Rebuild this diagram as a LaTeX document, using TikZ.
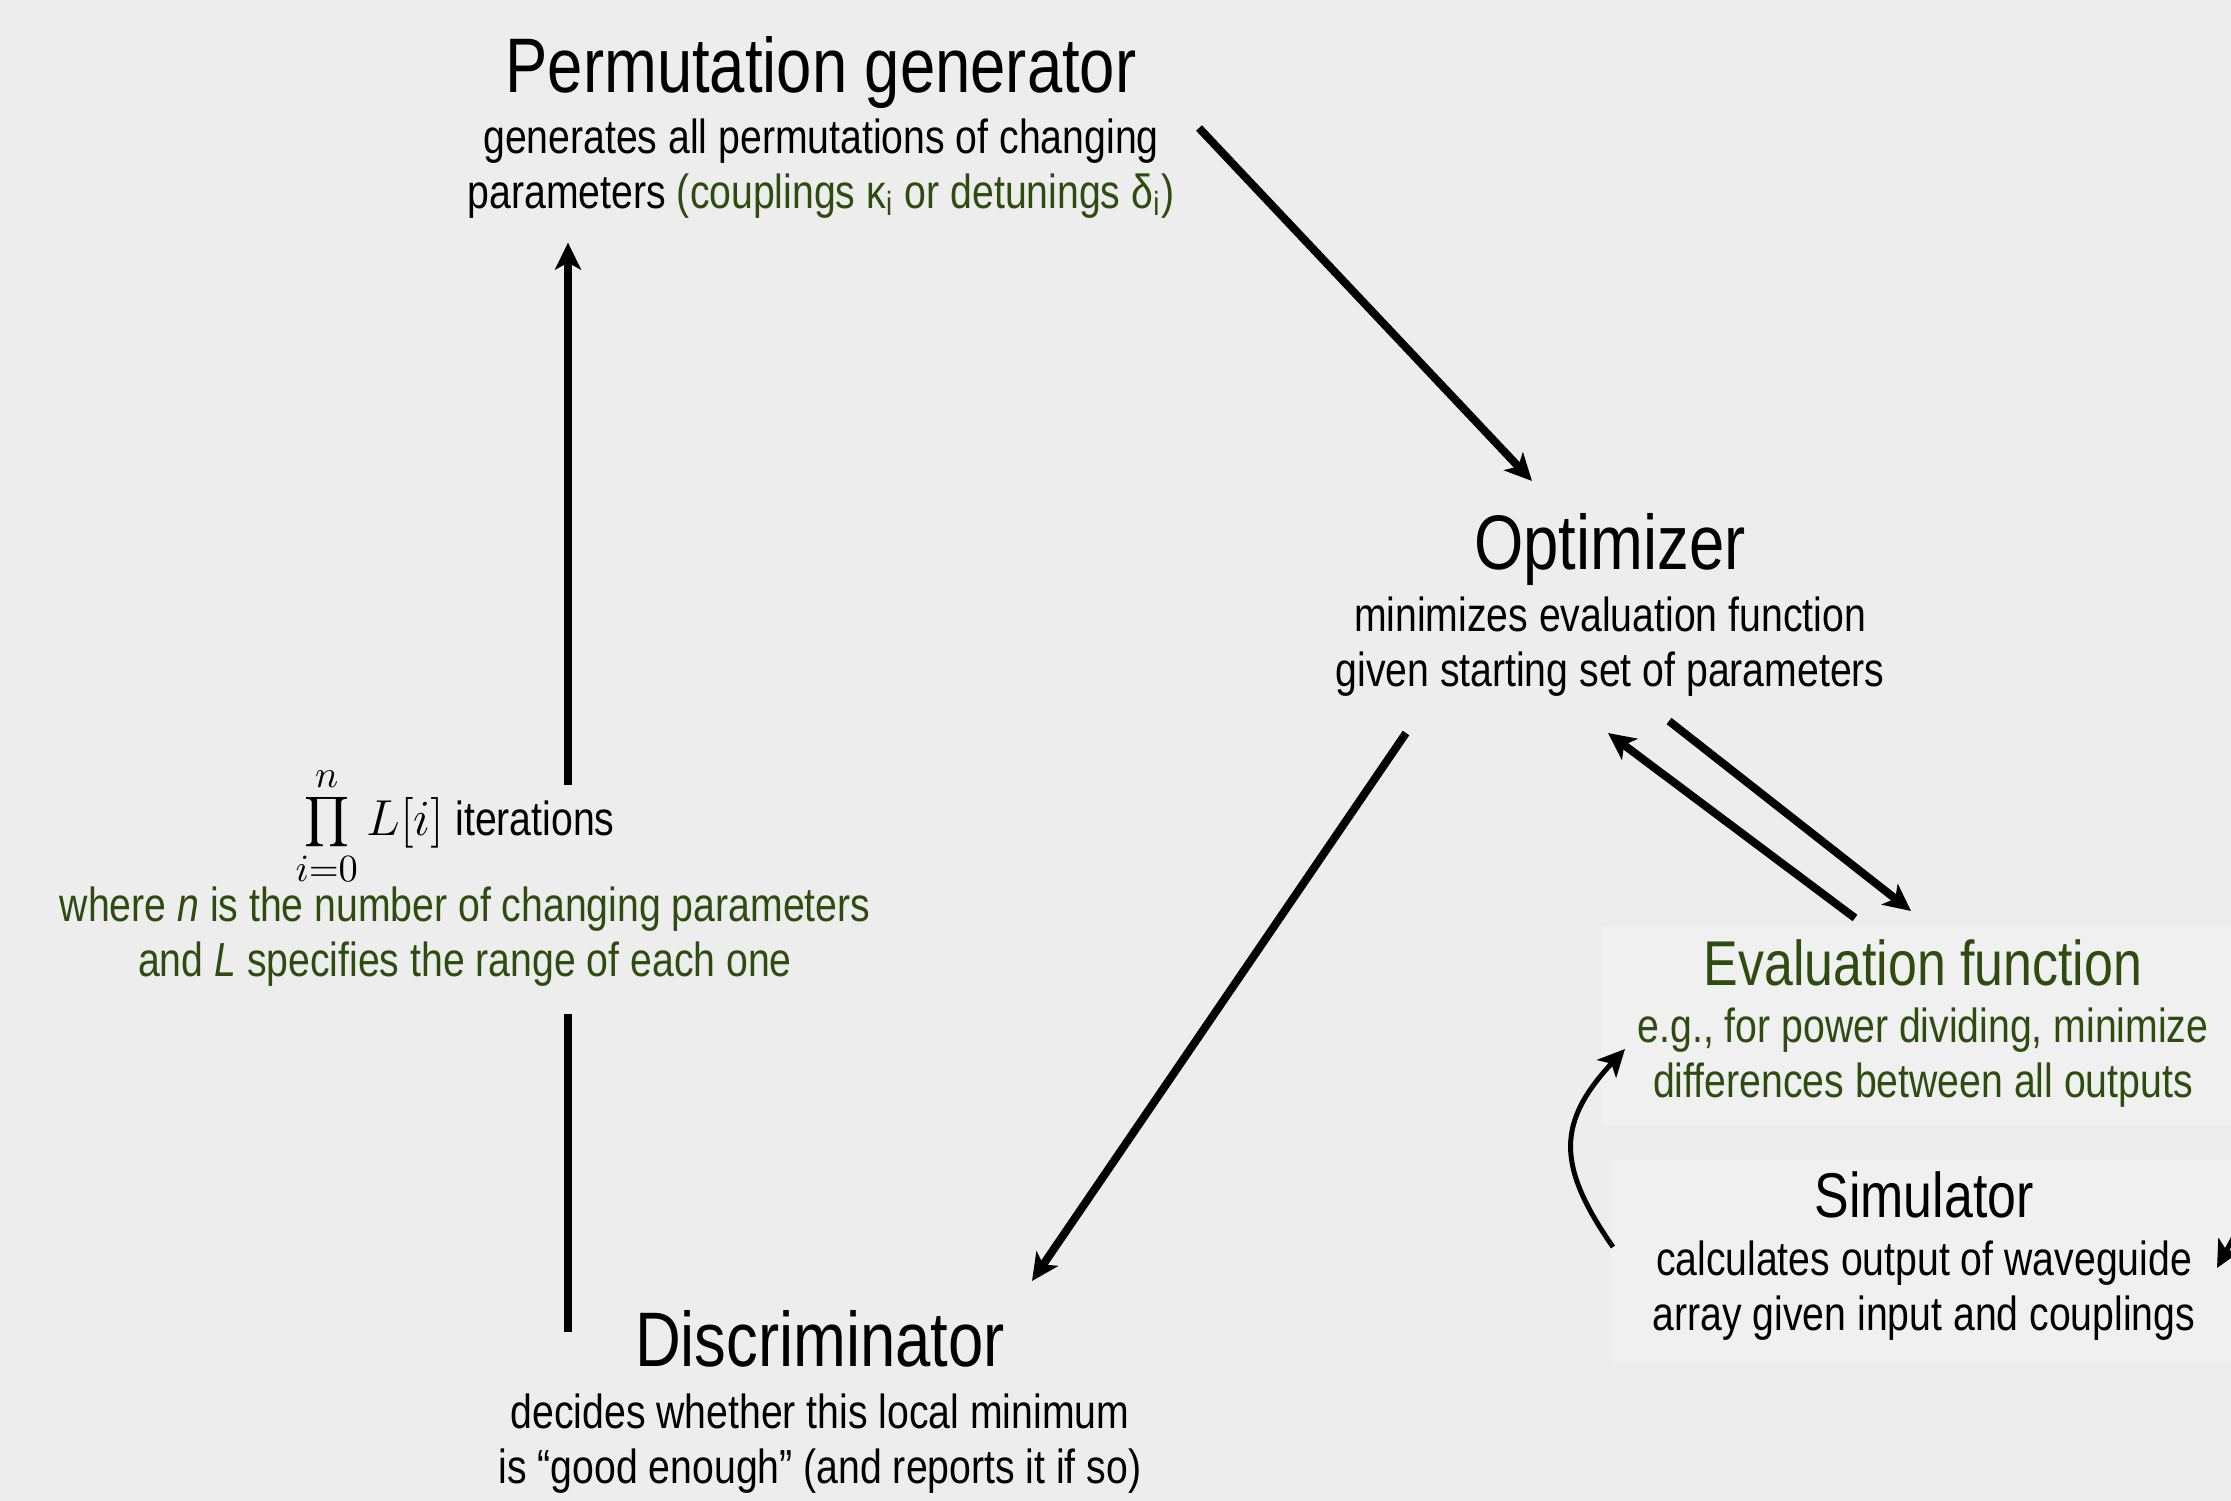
\documentclass[tikz,border=0pt]{standalone}
\usepackage[no-math]{fontspec}
\setmainfont[FakeStretch=0.82]{Liberation Sans}
\usetikzlibrary{arrows.meta,calc}
\definecolor{slidebg}{RGB}{237,237,237}
\definecolor{boxbg}{RGB}{240,240,240}
\definecolor{evalgreen}{RGB}{46,76,16}
\begin{document}
\begin{tikzpicture}[
    ttl/.style={anchor=base, inner sep=0pt, font=\fontsize{22}{26}\selectfont, text=#1},
    ttl/.default=black,
    sttl/.style={anchor=base, inner sep=0pt, font=\fontsize{18}{21}\selectfont, text=#1},
    sttl/.default=black,
    sub/.style={anchor=base, inner sep=0pt, align=center, font=\fontsize{13.6}{15.6}\selectfont, text=#1},
    sub/.default=black,
    arr/.style={-{Stealth[length=0.27cm, width=0.26cm, inset=0.07cm]}, line width=0.08cm, black},
    line/.style={line width=0.08cm, black},
]
\fill[slidebg] (0,0) rectangle (22.31,-15.01);
\useasboundingbox (0,0) rectangle (22.31,-15.01);
\fill[boxbg] (16.01,-9.26) rectangle (22.31,-11.25);
\fill[boxbg] (16.11,-11.60) rectangle (22.31,-13.62);

% sub nodes sit on the baseline of their last line
\node[ttl] (permT) at (8.21,-0.92) {Permutation generator};
\node[sub] (permS) at ($(permT.base)+(0,-1.16)$) {generates all permutations of changing\\parameters {\color{evalgreen}(couplings κ\textsubscript{i} or detunings δ\textsubscript{i})}};
\node[ttl] (optT) at (16.10,-5.69) {Optimizer};
\node[sub] (optS) at ($(optT.base)+(0,-1.17)$) {minimizes evaluation function\\given starting set of parameters};
\node[ttl] (discT) at (8.20,-13.66) {Discriminator};
\node[sub] (discS) at ($(discT.base)+(0,-1.17)$) {decides whether this local minimum\\is “good enough” (and reports it if so)};
\node[sttl=evalgreen] (evalT) at (19.23,-9.85) {Evaluation function};
\node[sub=evalgreen] (evalS) at ($(evalT.base)+(0,-1.12)$) {e.g., for power dividing, minimize\\differences between all outputs};
\node[sttl] (simT) at (19.24,-12.17) {Simulator};
\node[sub] (simS) at ($(simT.base)+(0,-1.13)$) {calculates output of waveguide\\array given input and couplings};
\node[sub] (iterT) at (4.55,-8.35) {{\fontsize{15.5}{18}\selectfont$\displaystyle\prod_{i=0}^{n} L[i]$} iterations};
\node[sub=evalgreen] (iterS) at (4.65,-9.76) {where \textit{n} is the number of changing parameters\\and \textit{L} specifies the range of each one};

\draw[arr] ($(permT.base)+(3.78,-0.36)$) -- ($(optT.base)+(-0.78,0.88)$);
\draw[arr] ($(optT.base)+(-2.04,-1.64)$) -- ($(discT.base)+(2.12,0.85)$);
\draw[arr] ($(optT.base)+(0.59,-1.52)$) -- ($(evalT.base)+(-0.12,0.74)$);
\draw[arr] ($(evalT.base)+(-0.68,0.67)$) -- ($(optT.base)+(-0.02,-1.64)$);

% loop back to the generator
\coordinate (loopbot) at (5.68,-13.32);
\coordinate (looptop) at (5.68,-7.85);
\draw[line, shorten >=0.27cm] (loopbot) -- (loopbot |- iterS.south);
\draw[arr, shorten >=0.24cm] (looptop) -- (looptop |- permS.south);

\draw[arr, line width=0.05cm] ($(simT.base)+(-3.11,-0.30)$) .. controls +(-0.57,0.82) and +(-0.68,-0.73) .. ($(evalT.base)+(-2.98,-0.64)$);
\coordinate (simin) at (22.62,-11.85);
\draw[arr, line width=0.05cm] (simin) -- ($(simT.base)+(2.93,-0.51)$);
\end{tikzpicture}
\end{document}
